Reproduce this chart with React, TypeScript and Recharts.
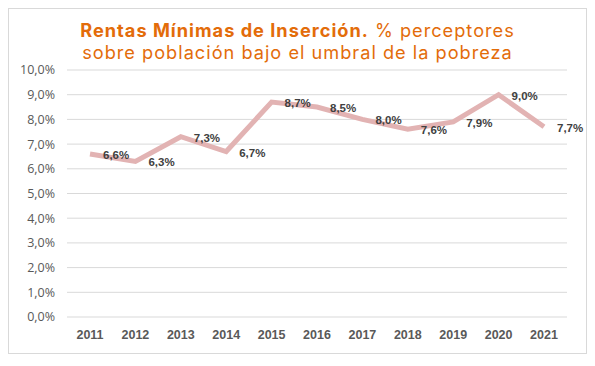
import React from "react";
import { LineChart, Line, XAxis, YAxis, CartesianGrid, LabelList } from "recharts";

const years = ["2011", "2012", "2013", "2014", "2015", "2016", "2017", "2018", "2019", "2020", "2021"];
const perceptores = [6.6, 6.3, 7.3, 6.7, 8.7, 8.5, 8.0, 7.6, 7.9, 9.0, 7.7];
const yTicks = [0, 1, 2, 3, 4, 5, 6, 7, 8, 9, 10];

const data = years.map((year, i) => ({ year, value: perceptores[i] }));

const pct = (v: number) => v.toFixed(1).replace(".", ",") + "%";

// data labels sit to the right of each point, like Excel's "right" position
const RightLabel = (props: any) => {
  const { x, y, value } = props;
  return (
    <text
      x={x + 13}
      y={y + 1}
      textAnchor="start"
      dominantBaseline="central"
      fontFamily="'Liberation Sans', Arial, sans-serif"
      fontWeight="bold"
      fontSize={11.5}
      fill="#404040"
    >
      {pct(value)}
    </text>
  );
};

export default function App() {
  return (
    <div
      style={{
        position: "relative",
        width: 579,
        height: 346,
        boxSizing: "border-box",
        border: "1px solid #d9d9d9",
        background: "#fff",
      }}
    >
      <div
        style={{
          position: "absolute",
          top: 10,
          left: 0,
          width: "100%",
          textAlign: "center",
          fontFamily: "Inter, sans-serif",
          fontSize: 18.2,
          letterSpacing: 1,
          lineHeight: "22px",
          color: "#E36C0A",
        }}
      >
        <div>
          <span style={{ fontWeight: 700 }}>Rentas Mínimas de Inserción.</span> % perceptores
        </div>
        <div>sobre población bajo el umbral de la pobreza</div>
      </div>
      <LineChart
        width={577}
        height={344}
        data={data}
        margin={{ top: 61, right: 19, bottom: 6, left: 0 }}
      >
        <CartesianGrid vertical={false} stroke="#d9d9d9" />
        <XAxis
          dataKey="year"
          height={30}
          axisLine={false}
          tickLine={false}
          tickSize={0}
          tickMargin={13}
          padding={{ left: 23, right: 23 }}
          tick={{
            fill: "#595959",
            fontSize: 12.5,
            fontWeight: "bold",
            fontFamily: "'Liberation Sans', Arial, sans-serif",
          }}
        />
        <YAxis
          domain={[0, 10]}
          ticks={yTicks}
          width={58}
          axisLine={false}
          tickLine={false}
          tickSize={0}
          tickMargin={12}
          tickFormatter={pct}
          tick={{ fill: "#595959", fontSize: 12.5, fontFamily: "'Open Sans', sans-serif" }}
        />
        <Line
          dataKey="value"
          type="linear"
          stroke="#E2B3B3"
          strokeWidth={5}
          dot={false}
          activeDot={false}
          isAnimationActive={false}
        >
          <LabelList dataKey="value" content={<RightLabel />} />
        </Line>
      </LineChart>
    </div>
  );
}
